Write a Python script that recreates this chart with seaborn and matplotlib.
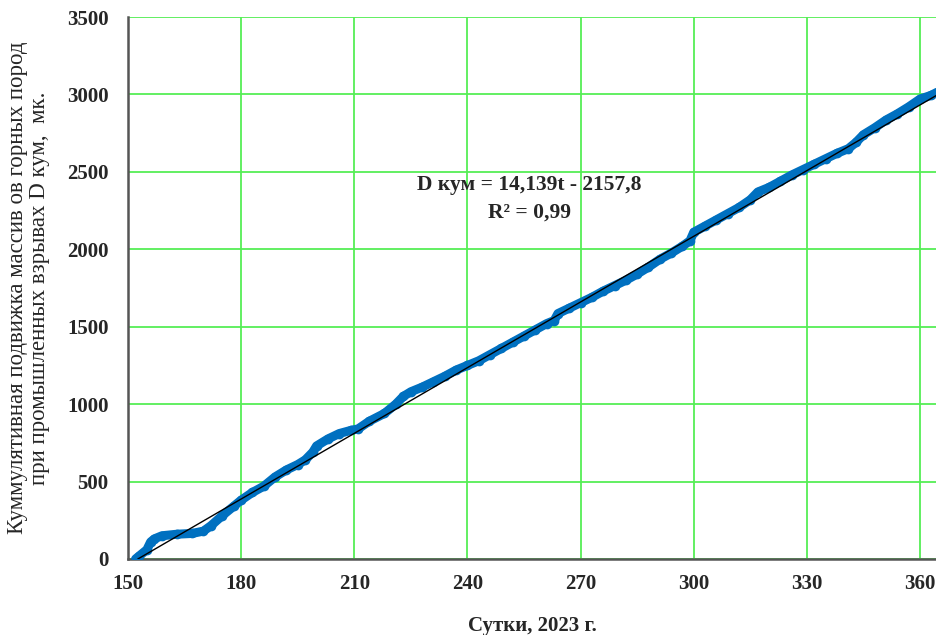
import numpy as np
import pandas as pd
import matplotlib
matplotlib.use("Agg")
import matplotlib.pyplot as plt
import seaborn as sns

# --- data ---
days = [152, 153, 155, 156, 157, 159, 163, 167, 170, 172, 175, 178, 180, 183, 186,
        189, 192, 195, 197, 199, 200, 203, 206, 209, 211, 214, 218, 221, 223, 225,
        228, 231, 234, 237, 240, 243, 246, 249, 252, 255, 258, 261, 263, 264, 267,
        270, 273, 276, 279, 282, 285, 288, 291, 294, 297, 299, 300, 303, 306, 309,
        312, 315, 317, 320, 323, 326, 329, 332, 335, 338, 341, 343, 345, 348, 351,
        354, 357, 360, 363, 365]
d_cum = [0, 20, 60, 110, 130, 150, 160, 165, 180, 215, 280, 340, 380, 430, 470,
         530, 575, 610, 640, 690, 730, 775, 810, 830, 840, 890, 940, 1000, 1050, 1080,
         1110, 1145, 1180, 1220, 1250, 1280, 1320, 1360, 1400, 1440, 1480, 1520, 1540, 1585, 1620,
         1655, 1690, 1730, 1765, 1800, 1840, 1885, 1935, 1975, 2020, 2055, 2110, 2150, 2190, 2230,
         2270, 2320, 2370, 2400, 2440, 2480, 2515, 2550, 2585, 2620, 2650, 2690, 2740, 2785, 2835,
         2875, 2920, 2970, 2995, 3020]

trend_slope = 14.139
trend_intercept = -2157.8
trend_days = [152.6, 365]

x_ticks = [150, 180, 210, 240, 270, 300, 330, 360]
y_ticks = [0, 500, 1000, 1500, 2000, 2500, 3000, 3500]

eq_text = "D кум = 14,139t - 2157,8"
r2_text = "R² = 0,99"
x_label = "Сутки, 2023 г."
y_label = "Куммулятивная подвижка массив ов горных пород\nпри промышленных взрывах D кум,  мк."

# --- figure ---
sns.set_theme(style="white")
plt.rcParams['font.family'] = ['Liberation Serif', 'DejaVu Serif']

fig = plt.figure(figsize=(9.37, 6.35), dpi=100)
ax = fig.add_axes([0.1366, 0.1197, 0.8634, 0.8535])

df = pd.DataFrame({"t": days, "D": d_cum})
sns.lineplot(data=df, x="t", y="D", ax=ax, color="#0070C0", lw=6.5,
             marker="o", markersize=7, markeredgewidth=0, zorder=3)

tr = pd.DataFrame({"t": trend_days,
                   "D": [trend_slope * t + trend_intercept for t in trend_days]})
sns.lineplot(data=tr, x="t", y="D", ax=ax, color="black", lw=1, zorder=4)

ax.set_xlim(150, 364.5)
ax.set_ylim(0, 3500)
ax.set_xticks(x_ticks)
ax.set_yticks(y_ticks)
ax.grid(True, color="#55EE55", lw=1.3)
ax.set_axisbelow(True)

for s in ["top", "right"]:
    ax.spines[s].set_visible(False)
for s in ["left", "bottom"]:
    ax.spines[s].set_color("#555555")
    ax.spines[s].set_linewidth(1.8)

ax.tick_params(axis="both", length=0, labelsize=15)
ax.tick_params(axis="x", pad=11)
ax.tick_params(axis="y", pad=14)
for lab in ax.get_xticklabels() + ax.get_yticklabels():
    lab.set_fontweight("bold")

ax.set_xlabel(x_label, fontsize=15, fontweight="bold", labelpad=16)
ax.set_ylabel(y_label, fontsize=16.5, labelpad=12, linespacing=1.05)

ax.text(256.5, 2414, eq_text, fontsize=15.5, fontweight="bold",
        ha="center", va="center")
ax.text(256.5, 2240, r2_text, fontsize=15.5, fontweight="bold",
        ha="center", va="center")

fig.savefig("out.png", dpi=100)
